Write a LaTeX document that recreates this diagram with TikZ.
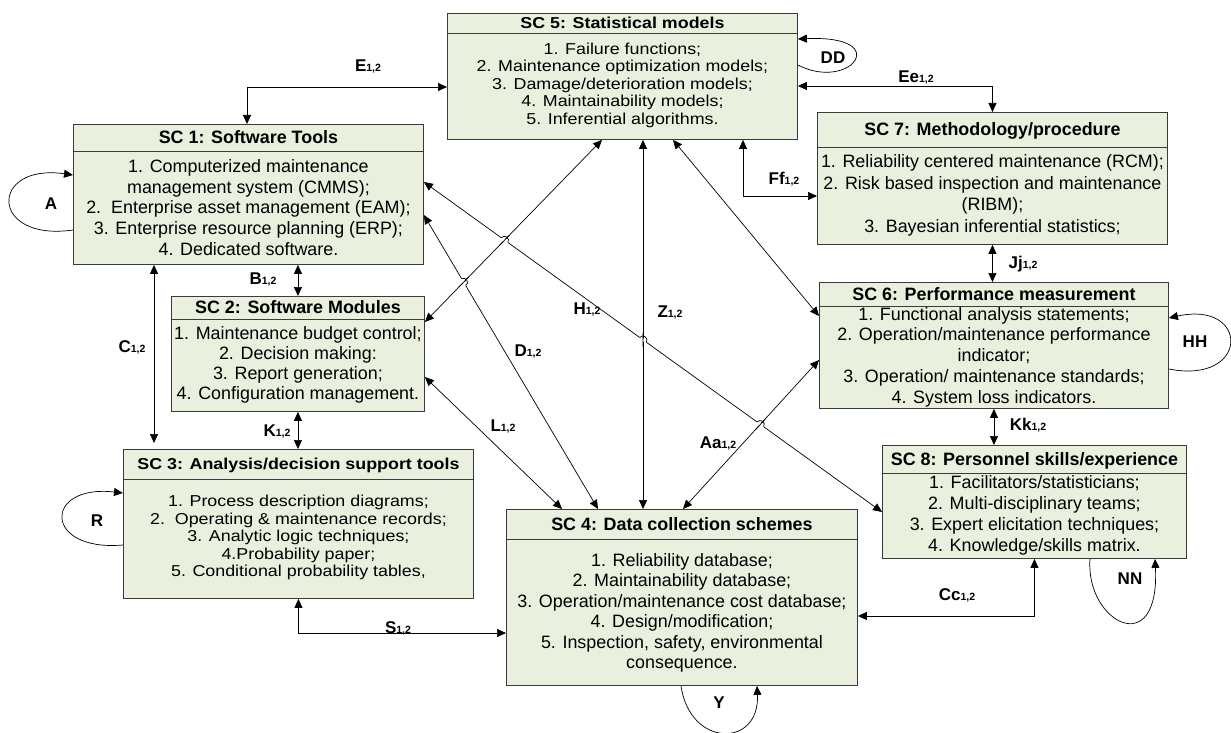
\documentclass[tikz,border=0pt]{standalone}
\usepackage{fontspec}
\setmainfont{Liberation Sans}
\newfontfamily\sqfont[FakeStretch=1.13]{Liberation Sans}
\usetikzlibrary{arrows.meta,calc}
\definecolor{boxfill}{HTML}{EAF0DE}
\definecolor{edge}{HTML}{3A3A3A}
\newcommand\lbl[2]{#1{\fontsize{10.5}{10.5}\selectfont #2}}
% line hop: #1 crossing, #2/#3 ends of hopping line, #4/#5 ends of crossed line
\newcommand\linehop[5]{%
  \coordinate (hopa) at ($(#1)!4pt!(#2)$);
  \coordinate (hopb) at ($(#1)!4pt!(#3)$);
  \draw[white, line width=2.5pt] (hopa) -- (hopb);
  \draw[conn] ($(#1)!7pt!(#4)$) -- ($(#1)!7pt!(#5)$);
  \draw[conn] (hopa) .. controls ($(hopa)!5pt!90:(hopb)$) and ($(hopb)!5pt!-90:(hopa)$) .. (hopb);}
\begin{document}
\begin{tikzpicture}[x=1pt,y=-1pt,
  scbox/.style={draw=edge, fill=boxfill, line width=0.9pt, inner sep=0pt, anchor=north west},
  divline/.style={draw=edge, line width=0.9pt},
  hdr/.style={font=\fontsize{17.9}{20}\selectfont\bfseries, inner sep=0pt, text height=12.8pt, text depth=0pt},
  body/.style={align=center, inner sep=0pt, font=\fontsize{17.9}{20.6}\selectfont},
  sqhdr/.style={font=\sqfont\fontsize{15.8}{17.5}\selectfont\bfseries, inner sep=0pt, text height=11.3pt, text depth=0pt},
  sqbody/.style={align=center, inner sep=0pt, font=\sqfont\fontsize{15.8}{17.5}\selectfont},
  conn/.style={draw=black, line width=0.7pt},
  dbl/.style={conn, {Triangle[length=9pt,width=8pt]}-{Triangle[length=9pt,width=8pt]}},
  arr/.style={conn, -{Triangle[length=9pt,width=8pt]}},
  tag/.style={font=\fontsize{17}{17}\selectfont\bfseries, inner sep=0pt, text height=12pt, text depth=0pt},
]
\useasboundingbox (0,0) rectangle (1231,733);

% ---------- boxes ----------
% SC5
\node[scbox, minimum width=350pt, minimum height=126pt] (sc5) at (447,13) {};
\draw[divline] ([yshift=-20pt]sc5.north west) -- ([yshift=-20pt]sc5.north east);
\node[sqhdr] (sc5h) at ($(sc5.north)+(0,10)$) {SC 5: Statistical models};
\node[sqbody] (sc5b) at ($(sc5.north)+(0,72)$) {1. Failure functions;\\2. Maintenance optimization models;\\3. Damage/deterioration models;\\4. Maintainability models;\\5. Inferential algorithms.};

% SC1
\node[scbox, minimum width=350pt, minimum height=140pt] (sc1) at (73,124) {};
\draw[divline] ([yshift=-27pt]sc1.north west) -- ([yshift=-27pt]sc1.north east);
\node[hdr] (sc1h) at ($(sc1.north)+(0,13.5)$) {SC 1: Software Tools};
\node[body] (sc1b) at ($(sc1.north)+(0,83.5)$) {1. Computerized maintenance\\management system (CMMS);\\2.\ \ Enterprise asset management (EAM);\\3. Enterprise resource planning (ERP);\\4. Dedicated software.};

% SC2
\node[scbox, minimum width=253pt, minimum height=115pt] (sc2) at (171,296) {};
\draw[divline] ([yshift=-23pt]sc2.north west) -- ([yshift=-23pt]sc2.north east);
\node[hdr] (sc2h) at ($(sc2.north)+(0,11.5)$) {SC 2: Software Modules};
\node[body, font=\fontsize{17.9}{20}\selectfont] (sc2b) at ($(sc2.north)+(0,69)$) {1. Maintenance budget control;\\2. Decision making:\\3. Report generation;\\4. Configuration management.};

% SC3
\node[scbox, minimum width=350pt, minimum height=149pt] (sc3) at (123,449) {};
\draw[divline] ([yshift=-30pt]sc3.north west) -- ([yshift=-30pt]sc3.north east);
\node[sqhdr] (sc3h) at ($(sc3.north)+(0,15)$) {SC 3: Analysis/decision support tools};
\node[sqbody] (sc3b) at ($(sc3.north)+(0,88.5)$) {1. Process description diagrams;\\2.\ \ Operating \& maintenance records;\\3. Analytic logic techniques;\\4.Probability paper;\\5. Conditional probability tables,};

% SC4
\node[scbox, minimum width=351pt, minimum height=176pt] (sc4) at (506,509) {};
\draw[divline] ([yshift=-30pt]sc4.north west) -- ([yshift=-30pt]sc4.north east);
\node[hdr] (sc4h) at ($(sc4.north)+(0,15)$) {SC 4: Data collection schemes};
\node[body, font=\fontsize{17.9}{20.5}\selectfont] (sc4b) at ($(sc4.north)+(0,104)$) {1. Reliability database;\\2. Maintainability database;\\3. Operation/maintenance cost database;\\4. Design/modification;\\5. Inspection, safety, environmental\\consequence.};

% SC7
\node[scbox, minimum width=350pt, minimum height=132pt] (sc7) at (817,112) {};
\draw[divline] ([yshift=-35pt]sc7.north west) -- ([yshift=-35pt]sc7.north east);
\node[hdr] (sc7h) at ($(sc7.north)+(0,17.5)$) {SC 7: Methodology/procedure};
\node[body, font=\fontsize{17.9}{21.7}\selectfont] (sc7b) at ($(sc7.north)+(0,83.5)$) {1. Reliability centered maintenance (RCM);\\2. Risk based inspection and maintenance\\(RIBM);\\3. Bayesian inferential statistics;};

% SC6
\node[scbox, minimum width=349pt, minimum height=126pt] (sc6) at (819,282) {};
\draw[divline] ([yshift=-24pt]sc6.north west) -- ([yshift=-24pt]sc6.north east);
\node[hdr] (sc6h) at ($(sc6.north)+(0,12)$) {SC 6: Performance measurement};
\node[body, font=\fontsize{17.9}{20.8}\selectfont] (sc6b) at ($(sc6.north)+(0,75)$) {1. Functional analysis statements;\\2. Operation/maintenance performance\\indicator;\\3. Operation/ maintenance standards;\\4. System loss indicators.};

% SC8
\node[scbox, minimum width=304pt, minimum height=113pt] (sc8) at (882,445) {};
\draw[divline] ([yshift=-28pt]sc8.north west) -- ([yshift=-28pt]sc8.north east);
\node[hdr] (sc8h) at ($(sc8.north)+(0,14)$) {SC 8: Personnel skills/experience};
\node[body, font=\fontsize{17.9}{21}\selectfont] (sc8b) at ($(sc8.north)+(0,70.5)$) {1. Facilitators/statisticians;\\2. Multi-disciplinary teams;\\3. Expert elicitation techniques;\\4. Knowledge/skills matrix.};

% ---------- orthogonal connectors ----------
\draw[dbl] ($(sc1.north west)+(174,0)$) |- ($(sc5.north west)+(0,74)$);
\draw[dbl] ($(sc5.north east)+(0,73)$) -| (sc7.north);
\draw[dbl] ($(sc5.south west)+(296,0)$) |- ($(sc7.north west)+(0,84)$);
\draw[dbl] (sc7.south) -- (sc7.south |- sc6.north);
\draw[dbl] (sc6.south) -- (sc6.south |- sc8.north);
\draw[dbl] (sc8.south) |- ($(sc4.north east)+(0,107)$);
\draw[dbl] (sc3.south) |- ($(sc4.north west)+(0,124)$);
\draw[dbl] (sc2.north |- sc1.south) -- (sc2.north);
\draw[dbl] ($(sc1.south west)+(81,0)$) -- ($(sc3.north west)+(31,-6)$);
\draw[dbl] (sc2.south) -- (sc2.south |- sc3.north);

% ---------- diagonal connectors ----------
\coordinate (pm1) at ($(sc5.south west)+(155,0)$);
\coordinate (pm2) at ($(sc2.north east)+(0,26)$);
\coordinate (pz1) at ($(sc5.south west)+(196,0)$);
\coordinate (pz2) at ($(sc4.north west)+(137,0)$);
\coordinate (ph1) at ($(sc1.north east)+(0,58)$);
\coordinate (ph2) at ($(sc8.north west)+(0,67)$);
\coordinate (pd1) at ($(sc1.north east)+(0,91)$);
\coordinate (pd2) at ($(sc4.north west)+(92,0)$);
\coordinate (pa1) at ($(sc6.north west)+(0,78)$);
\coordinate (pa2) at ($(sc4.north west)+(177,0)$);
\draw[dbl] (pm1) -- (pm2);
\draw[dbl] (pz1) -- (pz2);
\draw[dbl] ($(sc5.south west)+(226,0)$) -- ($(sc6.north west)+(0,34)$);
\draw[dbl] (ph1) -- (ph2);
\draw[dbl] (pd1) -- (pd2);
\draw[dbl] ($(sc2.north east)+(0,81)$) -- ($(sc4.north west)+(56,0)$);
\draw[dbl] (pa1) -- (pa2);

% line hops at crossings
\coordinate (xhm) at (intersection of ph1--ph2 and pm1--pm2);
\coordinate (xdm) at (intersection of pd1--pd2 and pm1--pm2);
\coordinate (xhz) at (intersection of ph1--ph2 and pz1--pz2);
\coordinate (xha) at (intersection of ph1--ph2 and pa1--pa2);
\linehop{xhm}{ph1}{ph2}{pm1}{pm2}
\linehop{xdm}{pd1}{pd2}{pm1}{pm2}
\linehop{xhz}{ph1}{ph2}{pz1}{pz2}
\linehop{xha}{ph1}{ph2}{pa1}{pa2}

% ---------- self loops ----------
\draw[arr] ($(sc1.north west)+(0,106)$) .. controls (-11,242) and (-11,163) .. ($(sc1.north west)+(0,51)$);
\draw[arr] ($(sc3.north west)+(0,96)$) .. controls (43,552) and (43,484) .. ($(sc3.north west)+(0,44)$);
\draw[arr] ($(sc5.north east)+(0,52)$) .. controls (850,92) and (895,35) .. ($(sc5.north east)+(0,26)$);
\draw[arr] ($(sc6.north east)+(0,87)$) .. controls (1250,385) and (1250,300) .. ($(sc6.north east)+(0,36)$);
\draw[arr] ($(sc8.south west)+(208,0)$) .. controls (1085,622) and (1160,662) .. ($(sc8.south west)+(273,0)$);
\draw[arr] ($(sc4.south west)+(175,0)$) .. controls (690,748) and (760,748) .. ($(sc4.south west)+(251,0)$);

% ---------- labels ----------
\node[tag] (tE) at (368,66) {\lbl{E}{1,2}};
\node[tag] (tEe) at (916,77) {\lbl{Ee}{1,2}};
\node[tag] (tDD) at (833,58) {DD};
\node[tag] (tFf) at (784,178) {\lbl{Ff}{1,2}};
\node[tag] (tJj) at (1023,262) {\lbl{Jj}{1,2}};
\node[tag] (tKk) at (1028,424) {\lbl{Kk}{1,2}};
\node[tag] (tHH) at (1195,341) {HH};
\node[tag] (tNN) at (1130,578) {NN};
\node[tag] (tCc) at (957,594) {\lbl{Cc}{1,2}};
\node[tag] (tY) at (719,702) {Y};
\node[tag] (tS) at (398,627) {\lbl{S}{1,2}};
\node[tag] (tR) at (97,520) {R};
\node[tag] (tA) at (51,203) {A};
\node[tag] (tB) at (263,278) {\lbl{B}{1,2}};
\node[tag] (tC) at (132,346) {\lbl{C}{1,2}};
\node[tag] (tK) at (277,430) {\lbl{K}{1,2}};
\node[tag] (tH) at (587,308) {\lbl{H}{1,2}};
\node[tag] (tZ) at (670,311) {\lbl{Z}{1,2}};
\node[tag] (tD) at (528,350) {\lbl{D}{1,2}};
\node[tag] (tL) at (503,425) {\lbl{L}{1,2}};
\node[tag] (tAa) at (718,442) {\lbl{Aa}{1,2}};
\end{tikzpicture}
\end{document}
